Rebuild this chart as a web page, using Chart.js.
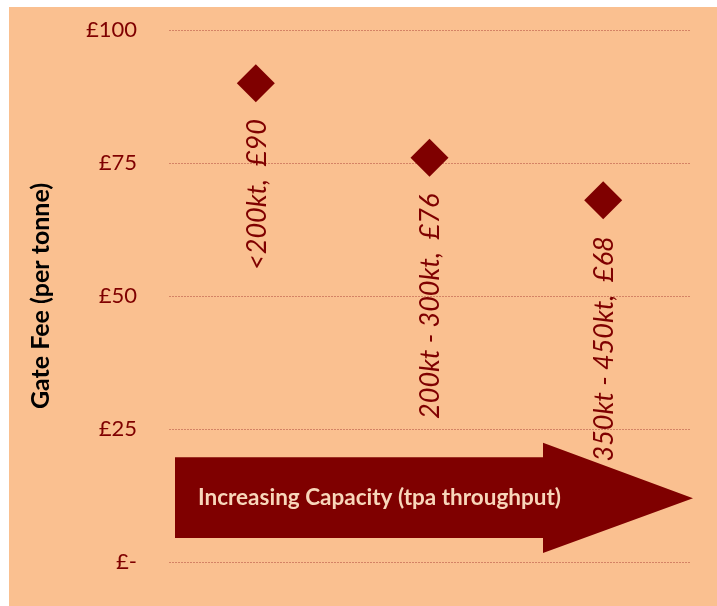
<!DOCTYPE html>
<html>
    <head>
        <title>Gate Fee</title>
        <meta charset="UTF-8">
        <script src="https://cdn.jsdelivr.net/npm/chart.js@4.4.0/dist/chart.umd.min.js"></script>
        <style>
            body { margin: 0; background: #ffffff; }
            #frame { position: absolute; left: 9px; top: 7px; width: 708px; height: 599px; background: #FAC090; }
        </style>
    </head>
    <body>
        <div id='frame'><canvas id='myChart' width='708' height='599'></canvas></div>
        <script>
            // data
            const categories = ['<200kt', '200kt - 300kt', '350kt - 450kt'];
            const gateFees = [90, 76, 68];
            const tickValues = [0, 25, 50, 75, 100];
            const tickTexts = ['£-', '£25', '£50', '£75', '£100'];
            const arrowText = 'Increasing Capacity (tpa throughput)';

            const darkRed = '#7F0000';

            // big arrow under the points, placed from the scales
            const arrowPlugin = {
                id: 'arrow',
                beforeDatasetsDraw(chart) {
                    let ctx = chart.ctx;
                    let area = chart.chartArea;
                    let y = chart.scales.y;
                    let x0 = area.left + 6;
                    let xNeck = area.left + 374;
                    let xTip = area.right + 3;
                    ctx.save();
                    ctx.fillStyle = darkRed;
                    ctx.beginPath();
                    ctx.moveTo(x0, y.getPixelForValue(19.7));
                    ctx.lineTo(xNeck, y.getPixelForValue(19.7));
                    ctx.lineTo(xNeck, y.getPixelForValue(22.4));
                    ctx.lineTo(xTip, y.getPixelForValue(12));
                    ctx.lineTo(xNeck, y.getPixelForValue(1.7));
                    ctx.lineTo(xNeck, y.getPixelForValue(4.5));
                    ctx.lineTo(x0, y.getPixelForValue(4.5));
                    ctx.closePath();
                    ctx.fill();
                    ctx.fillStyle = '#F8D6BA';
                    ctx.font = 'bold 22.5px Lato';
                    ctx.textAlign = 'left';
                    ctx.textBaseline = 'middle';
                    ctx.fillText(arrowText, x0 + 23, y.getPixelForValue(12));
                    ctx.restore();
                }
            };

            // rotated labels below each diamond
            const pointLabels = {
                id: 'pointLabels',
                afterDatasetsDraw(chart) {
                    let ctx = chart.ctx;
                    let meta = chart.getDatasetMeta(0);
                    ctx.save();
                    ctx.fillStyle = darkRed;
                    ctx.font = 'italic 27px Lato';
                    ctx.textAlign = 'right';
                    ctx.textBaseline = 'middle';
                    meta.data.forEach((pt, i) => {
                        ctx.save();
                        ctx.translate(pt.x + 1, pt.y + 36);
                        ctx.rotate(-Math.PI / 2);
                        ctx.fillText(categories[i] + ',  £' + gateFees[i], 0, 0);
                        ctx.restore();
                    });
                    ctx.restore();
                }
            };

            let ctx = document.getElementById('myChart').getContext('2d');
            var chart = new Chart(ctx, {
                type: 'line',
                data: {
                    labels: categories,
                    datasets: [{
                        data: gateFees,
                        showLine: false,
                        pointStyle: 'rectRot',
                        pointRadius: 19,
                        pointHoverRadius: 19,
                        pointBackgroundColor: darkRed,
                        pointBorderColor: darkRed,
                        pointBorderWidth: 0
                    }]
                },
                options: {
                    responsive: false,
                    animation: false,
                    devicePixelRatio: 1,
                    layout: { autoPadding: false, padding: { left: 0, top: 23, right: 27, bottom: 44 } },
                    plugins: {
                        legend: { display: false },
                        tooltip: { enabled: false }
                    },
                    scales: {
                        x: {
                            type: 'category',
                            display: false,
                            offset: true
                        },
                        y: {
                            min: 0,
                            max: 100,
                            afterFit: function (scale) {
                                scale.width = 160;
                                scale.paddingTop = 0;
                                scale.paddingBottom = 0;
                            },
                            afterBuildTicks: function (scale) {
                                scale.ticks = tickValues.map(v => ({ value: v }));
                            },
                            border: { display: false, dash: [2, 1] },
                            grid: {
                                color: 'rgba(180, 80, 65, 0.55)',
                                lineWidth: 1,
                                drawTicks: false
                            },
                            ticks: {
                                padding: 32,
                                color: darkRed,
                                font: { family: 'Lato', size: 22 },
                                callback: function (value) {
                                    return tickTexts[tickValues.indexOf(value)];
                                }
                            },
                            title: {
                                display: true,
                                text: 'Gate Fee (per tonne)',
                                color: '#000000',
                                font: { family: 'Lato', size: 25, weight: 'bold' },
                                padding: { top: 17, bottom: 0 }
                            }
                        }
                    }
                },
                plugins: [arrowPlugin, pointLabels]
            });
        </script>
    </body>
</html>
